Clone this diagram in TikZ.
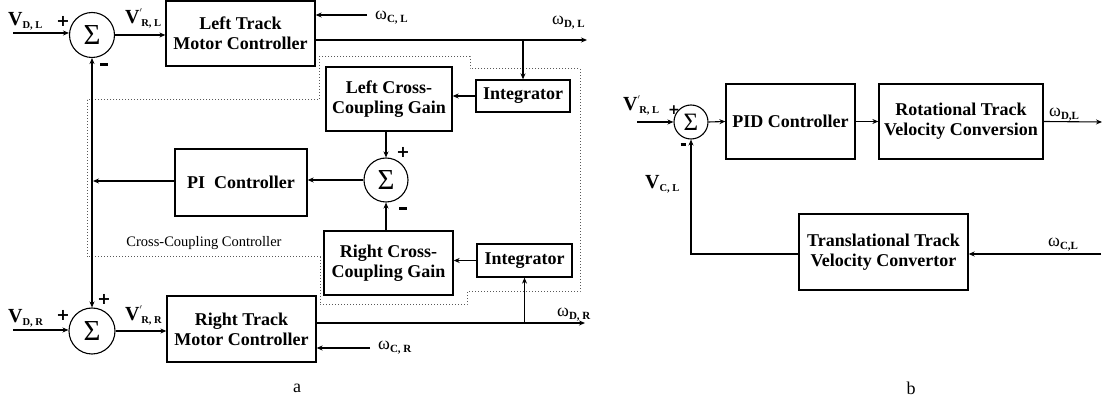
\documentclass[tikz,border=0pt]{standalone}
\usepackage{fontspec}
\setmainfont{Liberation Serif}
\newfontfamily\plusfont{DejaVu Sans}
\usetikzlibrary{arrows.meta,calc}
\newcommand{\VV}[2]{{\fontsize{20}{20}\selectfont\bfseries #1}\raisebox{-3pt}{\fontsize{10.5}{10.5}\selectfont\bfseries #2}}
\newcommand{\VP}[2]{{\fontsize{20}{20}\selectfont\bfseries #1}\rlap{\raisebox{8pt}{\fontsize{10}{10}\selectfont\bfseries $'$}}\raisebox{-3pt}{\fontsize{10.5}{10.5}\selectfont\bfseries\,#2}}
\newcommand{\WW}[1]{{\fontsize{18}{18}\selectfont ω}\raisebox{-3pt}{\fontsize{11}{11}\selectfont\bfseries #1}}
\begin{document}
\begin{tikzpicture}[x=1pt,y=-1pt,
  blk/.style={draw,line width=1.3pt,inner sep=0pt,align=center,font=\bfseries\fontsize{18}{20}\selectfont},
  sumn/.style={draw,circle,line width=1.1pt,inner sep=0pt,font=\fontsize{29}{29}\selectfont},
  arr/.style={line width=1.1pt,-{Stealth[length=6pt,width=5pt]}},
  darr/.style={line width=1.1pt,{Stealth[length=6pt,width=5pt]}-{Stealth[length=6pt,width=5pt]}},
  lab/.style={inner sep=0pt,anchor=base west},
  sgn/.style={inner sep=0pt,font=\plusfont\bfseries\fontsize{16}{16}\selectfont},
  dots/.style={dotted,line width=1pt,gray!70!black}]
\useasboundingbox (0,0) rectangle (1104,403);
% ---------- diagram a ----------
\node[sumn,minimum size=45pt] (T) at (92,35) {Σ};
\node[sumn,minimum size=46pt] (B) at (92,331) {Σ};
\node[sumn,minimum size=44pt] (S) at (386,180) {Σ};
\node[blk,minimum width=149pt,minimum height=65pt] (LT) at (240.5,33.5) {Left Track\\Motor Controller};
\node[blk,minimum width=149pt,minimum height=66pt] (RT) at (241.5,329) {Right Track\\Motor Controller};
\node[blk,minimum width=132pt,minimum height=67pt] (PI) at (241,182.5) {PI\ \ Controller};
\node[blk,minimum width=126pt,minimum height=64pt] (LC) at (389,99) {Left Cross-\\Coupling Gain};
\node[blk,minimum width=129pt,minimum height=64pt] (RC) at (388.5,263) {Right Cross-\\Coupling Gain};
\node[blk,minimum width=94pt,minimum height=32pt] (IL) at (523,96) {Integrator};
\node[blk,minimum width=95pt,minimum height=33pt] (IR) at (524.5,260.5) {Integrator};
% dotted boundary
\draw[dots] (87,100) -- (87,257) -- (320,257) -- (320,305) -- (467,305) -- (467,292) -- (580,292) -- (580,69) -- (470,69) -- (470,57) -- (319,57) -- (319,100) -- cycle;
\node[inner sep=0pt,font=\fontsize{14.5}{14.5}\selectfont] (ccl) at (204,243) {Cross-Coupling Controller};
% inputs
\coordinate (vdl) at (13,33);
\coordinate (vdr) at (13,330);
\draw[arr] (vdl) -- (vdl -| T.west);
\draw[arr] (vdr) -- (vdr -| B.west);
\draw[arr] (T.east) -- (T.east -| LT.west);
\draw[arr] (B.east) -- (B.east -| RT.west);
\node[lab] (l1) at (8,26) {\VV{V}{D, L}};
\node[lab] (l2) at (8,323) {\VV{V}{D, R}};
\node[lab] (l3) at (125,24) {\VP{V}{R, L}};
\node[lab] (l4) at (125,321) {\VP{V}{R, R}};
\node[sgn] (p1) at (63,21) {+};
\node[sgn] (m1) at (104,66) {\rule[3pt]{8pt}{3pt}};
\node[sgn] (p2) at (63,315) {+};
\node[sgn] (p3) at (104,299) {+};
\node[sgn] (p4) at (403,152) {+};
\node[sgn] (m2) at (403,210) {\rule[3pt]{8pt}{3pt}};
% vertical link
\draw[darr] (B.north) -- (T.south);
\coordinate (pij) at (93,181);
\draw[arr] (PI.west |- pij) -- (pij);
\draw[arr] (S.west) -- (S.west -| PI.east);
\draw[arr] (S.north |- LC.south) -- (S.north);
\draw[arr] (S.south |- RC.north) -- (S.south);
\draw[arr] (IL.west) -- (IL.west -| LC.east);
\draw[arr] (IR.west) -- (IR.west -| RC.east);
% outputs
\coordinate (odl) at (587,40);
\coordinate (odr) at (585,323);
\draw[arr] (LT.east |- odl) -- (odl);
\draw[arr] (RT.east |- odr) -- (odr);
\coordinate (bl) at (IL.north |- odl);
\coordinate (br) at (IR.south |- odr);
\draw[arr] (bl) -- (IL.north);
\draw[arr] (br) -- (IR.south);
\coordinate (wcl) at (367,15);
\coordinate (wcr) at (370,348);
\draw[arr] (wcl) -- (wcl -| LT.east);
\draw[arr] (wcr) -- (wcr -| RT.east);
\node[lab] (w1) at (375,20) {\WW{C, L}};
\node[lab] (w2) at (552,25) {\WW{D, L}};
\node[lab] (w3) at (378,350) {\WW{C, R}};
\node[lab] (w4) at (557,317) {\WW{D, R}};
\node[inner sep=0pt,font=\fontsize{18}{18}\selectfont] (ta) at (297,388) {a};
% ---------- diagram b ----------
\node[sumn,minimum size=34pt,font=\fontsize{25}{25}\selectfont] (R) at (691,122) {Σ};
\node[blk,minimum width=129pt,minimum height=75pt] (PID) at (790.5,121.5) {PID Controller};
\node[blk,minimum width=164pt,minimum height=75pt] (ROT) at (961,121.5) {Rotational Track\\Velocity Conversion};
\node[blk,minimum width=169pt,minimum height=76pt] (TR) at (883.5,252) {Translational Track\\Velocity Convertor};
\coordinate (rin) at (637,122);
\draw[arr] (rin) -- (R.west);
\draw[arr] (R.east) -- (PID.west);
\draw[arr] (PID.east) -- (ROT.west);
\coordinate (rout) at (1102,122);
\draw[arr] (ROT.east) -- (rout);
\coordinate (wcin) at (1101,254);
\draw[arr] (wcin) -- (wcin -| TR.east);
\coordinate (fbc) at (R.south |- wcin);
\draw[arr] (wcin -| TR.west) -- (fbc) -- (R.south);
\node[lab] (r1) at (623,111) {\VP{V}{R, L}};
\node[sgn,font=\plusfont\bfseries\fontsize{14}{14}\selectfont] (rp) at (674,110) {+};
\node[sgn] (rm) at (683,146) {\rule[3pt]{5pt}{2.5pt}};
\node[lab] (r2) at (645,189) {\VV{V}{C, L}};
\node[lab] (r3) at (1049,117) {\WW{D,L}};
\node[lab] (r4) at (1048,247) {\WW{C,L}};
\node[inner sep=0pt,font=\fontsize{18}{18}\selectfont] (tb) at (911,388) {b};
\end{tikzpicture}
\end{document}
